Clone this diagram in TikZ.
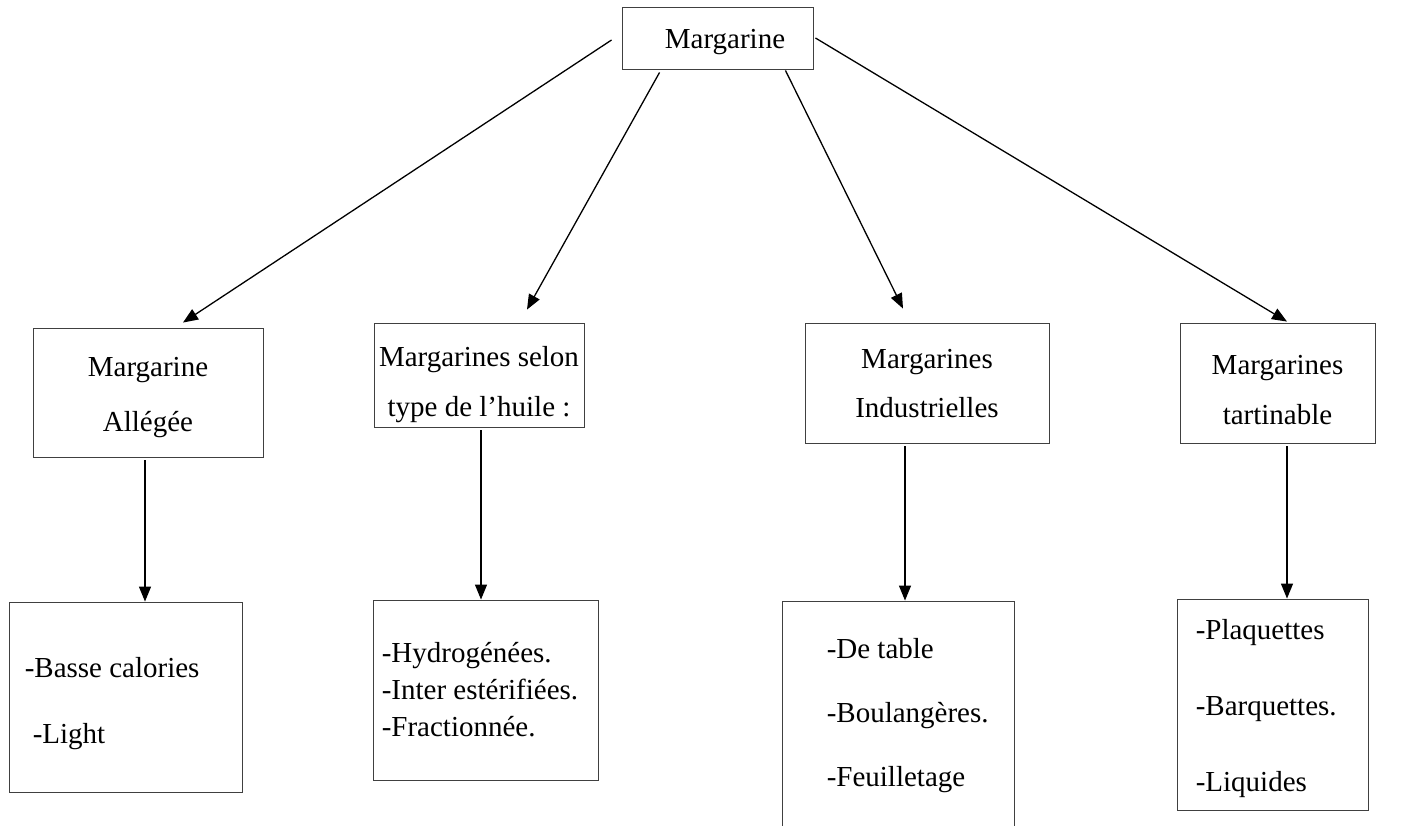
\documentclass[tikz,border=0pt]{standalone}
\usepackage{fontspec}
\setmainfont{Liberation Serif}
\usetikzlibrary{arrows.meta,positioning}

\begin{document}
\begin{tikzpicture}[x=1pt,y=-1pt,
  box/.style={draw=black!75, line width=0.9pt, inner sep=0pt},
  head/.style={inner sep=0pt, align=center, font=\fontsize{29}{35}\selectfont},
  txt/.style={inner sep=0pt, align=left, font=\fontsize{29}{35}\selectfont},
  arr/.style={line width=1.3pt, -{Triangle[length=15pt,width=12pt]}}]

\useasboundingbox (0,0) rectangle (1406,825);

\node[box, minimum width=191pt, minimum height=62pt] (marg) at (717.5,38) {};
\node[head, xshift=7.5pt, yshift=-4pt] (margTxt) at (marg) {Margarine};

\node[box, minimum width=230pt, minimum height=129pt] (allegee) at (148,392.5) {};
\node[head, yshift=-5pt] (allegeeTxt) at (allegee) {Margarine\\[20pt]Allégée};
\node[box, minimum width=210pt, minimum height=104pt] (huile) at (479,375) {};
\node[head, yshift=-10pt] (huileTxt) at (huile) {Margarines selon\\[15pt]type de l’huile :};
\node[box, minimum width=244pt, minimum height=120pt] (indus) at (927,383) {};
\node[head, yshift=-1pt] (indusTxt) at (indus) {Margarines\\[14pt]Industrielles};
\node[box, minimum width=195pt, minimum height=120pt] (tarti) at (1277.5,383) {};
\node[head, yshift=-7pt] (tartiTxt) at (tarti) {Margarines\\[15pt]tartinable};

\node[box, minimum width=233pt, minimum height=190pt] (basse) at (125.5,697) {};
\node[txt, right=16pt of basse.west, yshift=-7pt] (basseTxt) {-Basse calories\\[31pt]\hspace*{8pt}-Light};

\node[box, minimum width=225pt, minimum height=180pt] (hydro) at (485.5,690) {};
\node[txt, right=9pt of hydro.west] (hydroTxt) {-Hydrogénées.\\[2pt]-Inter estérifiées.\\[2pt]-Fractionnée.};

\node[box, minimum width=232pt, minimum height=234pt] (table) at (898,718) {};
\node[txt, right=45pt of table.west, yshift=2.5pt] (tableTxt) {-De table\\[29pt]-Boulangères.\\[29pt]-Feuilletage};

\node[box, minimum width=191pt, minimum height=211pt] (plaq) at (1272.5,704.5) {};
\node[txt, right=19pt of plaq.west, yshift=-4pt] (plaqTxt) {-Plaquettes\\[41pt]-Barquettes.\\[41pt]-Liquides};

\draw[arr] ([shift={(-10,2)}]marg.west) -- ([shift={(35,-5)}]allegee.north);
\draw[arr] ([shift={(38,3)}]marg.south west) -- ([shift={(48,-13)}]huile.north);
\draw[arr] ([shift={(-28,1)}]marg.south east) -- ([shift={(-24,-14)}]indus.north);
\draw[arr] ([shift={(2,0)}]marg.east) -- ([shift={(9.5,-1)}]tarti.north);

\coordinate (dA) at ([shift={(-3,3)}]allegee.south);
\coordinate (dB) at ([shift={(2,3)}]huile.south);
\coordinate (dC) at ([shift={(-22,3)}]indus.south);
\coordinate (dD) at ([shift={(9.5,3)}]tarti.south);
\draw[arr] (dA) -- (dA |- basse.north);
\draw[arr] (dB) -- (dB |- hydro.north);
\draw[arr] (dC) -- (dC |- table.north);
\draw[arr] (dD) -- (dD |- plaq.north);

\end{tikzpicture}
\end{document}
